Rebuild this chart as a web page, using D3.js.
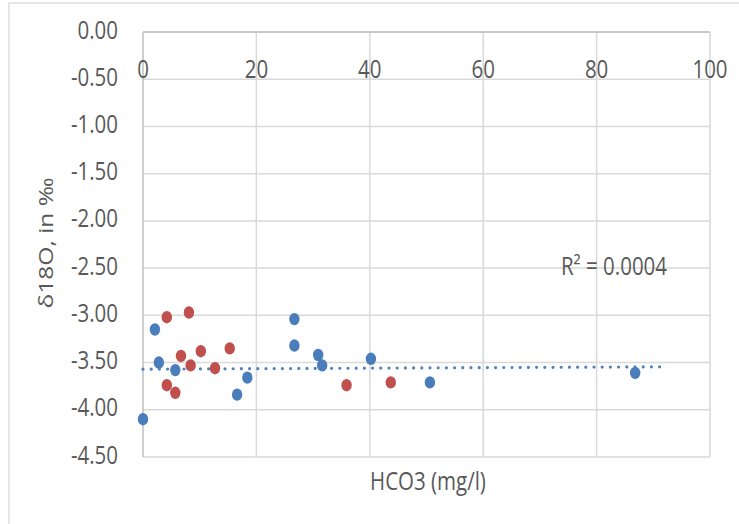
<!DOCTYPE html>
<html lang="en">
<head>
<meta charset="utf-8">
<style>
  body { margin: 0; background: #fff; }
  svg { display: block; }
  .grid line { stroke: #d9d9d9; stroke-width: 1.5px; }
  .lbl { font-family: "Open Sans", sans-serif; fill: #595959; font-size: 20.5px; }
</style>
<script src="https://d3js.org/d3.v7.min.js"></script>
</head>
<body>
<script>
var width = 739, height = 524;

// series
var blueX = [0, 2.1, 2.8, 5.7, 16.6, 18.4, 26.7, 26.7, 30.9, 31.6, 40.2, 50.6, 86.8];
var blueY = [-4.10, -3.15, -3.50, -3.58, -3.84, -3.66, -3.04, -3.32, -3.42, -3.53, -3.46, -3.71, -3.61];
var redX = [4.2, 8.1, 6.7, 10.2, 15.3, 8.4, 12.7, 4.2, 5.7, 35.9, 43.7];
var redY = [-3.02, -2.97, -3.43, -3.38, -3.35, -3.53, -3.56, -3.74, -3.82, -3.74, -3.71];
var trendX = [0, 91.4];
var trendY = [-3.57, -3.545];
var xTicks = [0, 20, 40, 60, 80, 100];
var yTicks = [0, -0.5, -1, -1.5, -2, -2.5, -3, -3.5, -4, -4.5];

var svg = d3.select("body").append("svg")
  .attr("width", width)
  .attr("height", height);

// chart frame
svg.append("rect")
  .attr("x", 9).attr("y", 3)
  .attr("width", 760).attr("height", 560)
  .attr("fill", "#fff").attr("stroke", "#d9d9d9").attr("stroke-width", 1.2);

var x = d3.scaleLinear().domain([0, 100]).range([143, 710]);
var y = d3.scaleLinear().domain([-4.5, 0]).range([457, 32]);

var grid = svg.append("g").attr("class", "grid");
grid.selectAll(".h").data(yTicks).enter().append("line")
  .attr("x1", x(0)).attr("x2", x(100))
  .attr("y1", function(d) { return y(d); })
  .attr("y2", function(d) { return y(d); });
grid.selectAll(".v").data(xTicks.slice(1)).enter().append("line")
  .attr("x1", function(d) { return x(d); })
  .attr("x2", function(d) { return x(d); })
  .attr("y1", y(0)).attr("y2", y(-4.5));

// axis lines (x axis crosses at y = 0)
svg.append("line")
  .attr("x1", x(0)).attr("x2", x(100)).attr("y1", y(0)).attr("y2", y(0))
  .attr("stroke", "#bfbfbf").attr("stroke-width", 1.5);
svg.append("line")
  .attr("x1", x(0)).attr("x2", x(0)).attr("y1", y(0)).attr("y2", y(-4.5))
  .attr("stroke", "#bfbfbf").attr("stroke-width", 1.5);

// text in the picture is stretched a bit vertically
function label(px, py, txt, anchor, rot) {
  return svg.append("text").attr("class", "lbl")
    .attr("transform", "translate(" + px + "," + py + ") scale(1,1.2)" + (rot ? " rotate(-90)" : ""))
    .attr("text-anchor", anchor)
    .text(txt);
}

yTicks.forEach(function(d) {
  label(118, y(d) + 6.5, d3.format(".2f")(d).replace("−", "-"), "end");
});
xTicks.forEach(function(d) {
  label(x(d), y(0) + 46, d, "middle");
});

// axis titles
label(53, 243, "δ18O, in ‰", "middle", true);
label(428, 490, "HCO3 (mg/l)", "middle");

// trendline
svg.append("path")
  .datum(d3.zip(trendX, trendY))
  .attr("d", d3.line().x(function(d) { return x(d[0]); }).y(function(d) { return y(d[1]); }))
  .attr("fill", "none")
  .attr("stroke", "#4f81bd")
  .attr("stroke-width", 3.2)
  .attr("stroke-linecap", "round")
  .attr("stroke-dasharray", "0,8.2");

// points
function drawSeries(xs, ys, color) {
  svg.append("g").selectAll("ellipse")
    .data(d3.zip(xs, ys))
    .enter().append("ellipse")
    .attr("cx", function(d) { return x(d[0]); })
    .attr("cy", function(d) { return y(d[1]); })
    .attr("rx", 5.2).attr("ry", 6.2)
    .attr("fill", color);
}
drawSeries(redX, redY, "#c0504d");
drawSeries(blueX, blueY, "#4a7ebb");

// R squared
label(614, 275, "R² = 0.0004", "middle");
</script>
</body>
</html>
